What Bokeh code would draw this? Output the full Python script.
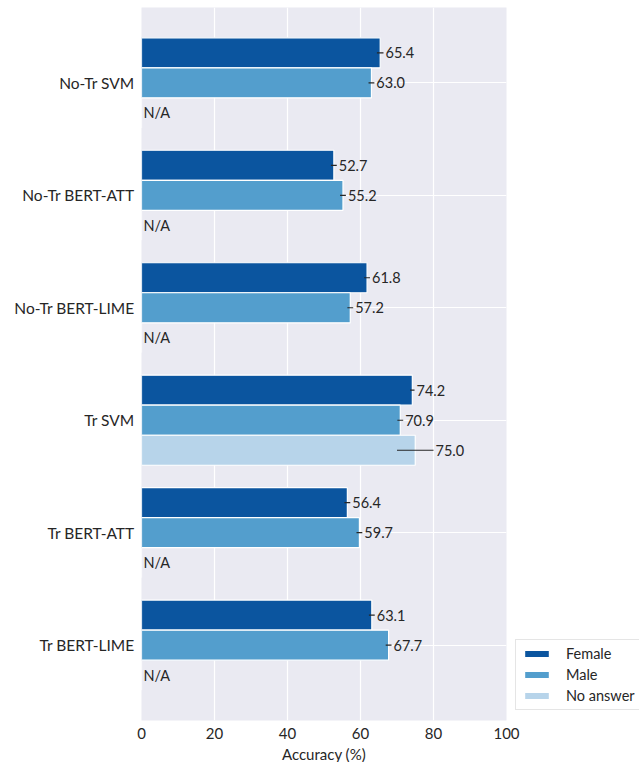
from bokeh.plotting import figure
from bokeh.models import Range1d, FixedTicker, Legend, LegendItem, ColumnDataSource
from bokeh.core.properties import value
from bokeh.embed import file_html
from bokeh.resources import INLINE

categories = ["No-Tr SVM", "No-Tr BERT-ATT", "No-Tr BERT-LIME", "Tr SVM", "Tr BERT-ATT", "Tr BERT-LIME"]
series = ["Female", "Male", "No answer"]
female = [65.4, 52.7, 61.8, 74.2, 56.4, 63.1]
male = [63.0, 55.2, 57.2, 70.9, 59.7, 67.7]
no_answer = [None, None, None, 75.0, None, None]
female_err = [0.9, 0.8, 0.8, 0.6, 0.8, 0.8]
male_err = [0.8, 0.8, 0.8, 0.8, 0.8, 0.8]
no_answer_err = [0.0, 0.0, 0.0, 5.0, 0.0, 0.0]
colors = ["#0b559f", "#539ecd", "#b7d4ea"]
xticks = [0, 20, 40, 60, 80, 100]

FONT = "Lato"
TXT = "#262626"

p = figure(width=639, height=762, frame_width=365, frame_height=713,
           output_backend="svg", toolbar_location=None,
           x_range=Range1d(0, 100), y_range=Range1d(5.67, -0.67),
           min_border_left=141, min_border_right=133, min_border_top=7,
           background_fill_color="white", border_fill_color="white")
p.background_fill_color = "#eaeaf2"
p.outline_line_color = None

p.xgrid.ticker = FixedTicker(ticks=xticks)
p.ygrid.ticker = FixedTicker(ticks=list(range(len(categories))))
for g in (p.xgrid, p.ygrid):
    g.grid_line_color = "white"
    g.grid_line_width = 1.2

p.xaxis.ticker = FixedTicker(ticks=xticks)
p.yaxis.ticker = FixedTicker(ticks=list(range(len(categories))))
p.yaxis.major_label_overrides = {i: c for i, c in enumerate(categories)}
for ax in (p.xaxis, p.yaxis):
    ax.axis_line_color = None
    ax.major_tick_line_color = None
    ax.minor_tick_line_color = None
    ax.major_tick_in = 0
    ax.major_tick_out = 0
    ax.major_label_text_font = FONT
    ax.major_label_text_font_size = "15px"
    ax.major_label_text_color = TXT
p.yaxis.major_label_text_font_size = "15.5px"
p.yaxis.major_label_standoff = 7
p.xaxis.major_label_standoff = 7
p.xaxis.axis_label = "Accuracy (%)"
p.xaxis.axis_label_text_font = FONT
p.xaxis.axis_label_text_font_style = "normal"
p.xaxis.axis_label_text_font_size = "15px"
p.xaxis.axis_label_text_color = TXT
p.xaxis.axis_label_standoff = 3

offsets = [-0.267, 0.0, 0.267]
data = [female, male, no_answer]
errs = [female_err, male_err, no_answer_err]
items = []
for s, vals, err, off, col in zip(series, data, errs, offsets, colors):
    ys = [i + off for i in range(len(categories))]
    bar_vals = [v if v is not None else 0 for v in vals]
    src = ColumnDataSource(dict(y=ys, right=bar_vals))
    r = p.hbar(y="y", right="right", left=0, height=0.267, source=src,
               fill_color=col, line_color="white", line_width=1.2)
    items.append(LegendItem(label=s, renderers=[r]))
    lo = [(v if v is not None else 0) - e for v, e in zip(vals, err)]
    hi = [(v if v is not None else 0) + e for v, e in zip(vals, err)]
    p.segment(x0=lo, x1=hi, y0=ys, y1=ys, line_color="#262626", line_width=1.2)
    labels = [f"{v:.1f}" if v is not None else "N/A" for v in vals]
    p.text(x=hi, y=ys, text=labels, x_offset=2, text_baseline="middle",
           text_align="left", text_font=value(FONT), text_font_size="14.5px",
           text_color=TXT)

legend = Legend(items=items, location=(9, 10), orientation="vertical",
                label_text_font=FONT, label_text_font_size="14.5px",
                label_text_color=TXT, glyph_width=31, glyph_height=9,
                spacing=4, padding=5, margin=0, label_height=17,
                background_fill_color="white", background_fill_alpha=0.9,
                border_line_color="#cccccc", border_line_width=1,
                label_standoff=14)
p.add_layout(legend, "right")

open("out.html", "w").write(file_html(p, INLINE))
